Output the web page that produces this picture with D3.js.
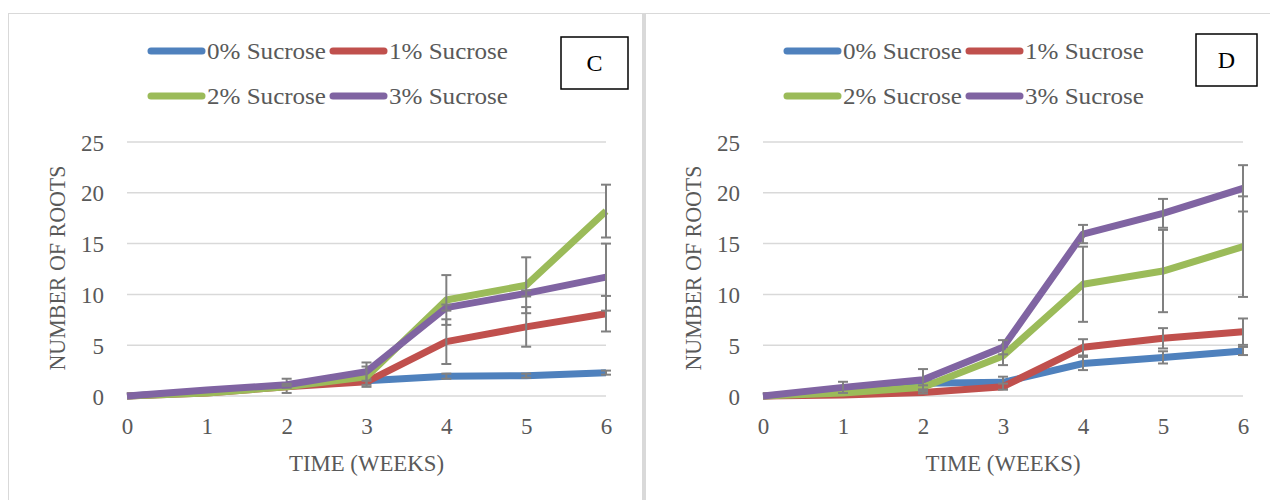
<!DOCTYPE html>
<html>
<head>
<meta charset="utf-8">
<script src="https://cdn.jsdelivr.net/npm/d3@7"></script>
<style>
  html, body { margin: 0; padding: 0; background: #fff; }
  svg { display: block; }
</style>
</head>
<body>
<svg id="chart" width="1270" height="500"></svg>
<script>
// ---------- data ----------
const weeks = [0, 1, 2, 3, 4, 5, 6];
const yTicks = [0, 5, 10, 15, 20, 25];
const seriesNames = ["0% Sucrose", "1% Sucrose", "2% Sucrose", "3% Sucrose"];
const seriesColors = ["#4F81BD", "#C0504D", "#9BBB59", "#8064A2"];

// Panel C – mean number of roots
const c_sucrose0 = [0, 0.4, 1.0, 1.5, 1.95, 2.0, 2.3];
const c_sucrose1 = [0, 0.3, 0.9, 1.4, 5.35, 6.8, 8.1];
const c_sucrose2 = [0, 0.3, 0.9, 1.9, 9.45, 10.9, 18.2];
const c_sucrose3 = [0, 0.6, 1.1, 2.4, 8.7, 10.1, 11.7];
// Panel C – error (±)
const c_err0 = [0, 0.1, 0.7, 0.2, 0.25, 0.2, 0.2];
const c_err1 = [0, 0, 0.1, 0.3, 2.2, 1.95, 1.75];
const c_err2 = [0, 0, 0.1, 1.0, 2.45, 2.75, 2.6];
const c_err3 = [0, 0, 0.1, 0.9, 0.3, 0.3, 3.3];

// Panel D – mean number of roots
const d_sucrose0 = [0, 0.4, 1.25, 1.35, 3.2, 3.8, 4.43];
const d_sucrose1 = [0, 0.1, 0.35, 0.92, 4.79, 5.68, 6.33];
const d_sucrose2 = [0, 0.3, 0.85, 3.94, 11.0, 12.3, 14.7];
const d_sucrose3 = [0, 0.85, 1.6, 4.8, 15.94, 17.98, 20.44];
// Panel D – error (±)
const d_err0 = [0, 0.1, 0.2, 0.55, 0.65, 0.6, 0.4];
const d_err1 = [0, 0, 0.1, 0.3, 0.8, 1.0, 1.3];
const d_err2 = [0, 0, 0.2, 0.9, 3.7, 4.05, 4.95];
const d_err3 = [0, 0.55, 1.05, 0.7, 0.9, 1.42, 2.28];

const panels = [
  { label: "C", values: [c_sucrose0, c_sucrose1, c_sucrose2, c_sucrose3], errors: [c_err0, c_err1, c_err2, c_err3] },
  { label: "D", values: [d_sucrose0, d_sucrose1, d_sucrose2, d_sucrose3], errors: [d_err0, d_err1, d_err2, d_err3] }
];

// ---------- drawing ----------
const svg = d3.select("#chart");
const textColor = "#595959";
const gridColor = "#D9D9D9";
const fontFam = "'Liberation Serif', 'Times New Roman', serif";

// frames
svg.append("rect").attr("x", 8.5).attr("y", 13.5).attr("width", 634).attr("height", 600)
  .attr("fill", "none").attr("stroke", gridColor).attr("stroke-width", 1);
svg.append("line").attr("x1", 645).attr("x2", 1270).attr("y1", 13.5).attr("y2", 13.5)
  .attr("stroke", gridColor).attr("stroke-width", 1);
svg.append("rect").attr("x", 642).attr("y", 13).attr("width", 4).attr("height", 487)
  .attr("fill", gridColor);

const layouts = [
  { x0: 127, x1: 606, legendX: 148, box: [561, 37, 67, 52] },
  { x0: 763, x1: 1243, legendX: 784, box: [1196, 34, 61, 52] }
];

panels.forEach((p, pi) => {
  const L = layouts[pi];
  const g = svg.append("g");
  const x = d3.scaleLinear().domain([0, 6]).range([L.x0, L.x1]);
  const y = d3.scaleLinear().domain([0, 25]).range([396, 142]);

  // gridlines
  g.selectAll(".grid").data(yTicks).enter().append("line")
    .attr("x1", L.x0).attr("x2", L.x1)
    .attr("y1", d => y(d)).attr("y2", d => y(d))
    .attr("stroke", gridColor).attr("stroke-width", 1.5);

  // y axis (labels only)
  const yAxis = d3.axisLeft(y).tickValues(yTicks).tickSize(0).tickPadding(0);
  const ya = g.append("g").attr("transform", `translate(${L.x0 - 23},0)`).call(yAxis);
  ya.select(".domain").remove();
  ya.selectAll("text").attr("fill", textColor).style("font-family", fontFam)
    .style("font-size", "23px").attr("dy", "0.35em");

  // x axis (labels only)
  const xAxis = d3.axisBottom(x).tickValues(weeks).tickFormat(d3.format("d")).tickSize(0).tickPadding(0);
  const xa = g.append("g").attr("transform", `translate(0,418)`).call(xAxis);
  xa.select(".domain").remove();
  xa.selectAll("text").attr("fill", textColor).style("font-family", fontFam)
    .style("font-size", "23px").attr("dy", "0.71em");

  // axis titles
  g.append("text").attr("x", (L.x0 + L.x1) / 2).attr("y", 471)
    .attr("text-anchor", "middle").attr("fill", textColor)
    .style("font-family", fontFam).style("font-size", "24px")
    .attr("textLength", 155).attr("lengthAdjust", "spacingAndGlyphs")
    .text("TIME (WEEKS)");
  g.append("text").attr("transform", `translate(${L.x0 - 62},268) rotate(-90)`)
    .attr("text-anchor", "middle").attr("fill", textColor)
    .style("font-family", fontFam).style("font-size", "24px")
    .attr("textLength", 205).attr("lengthAdjust", "spacingAndGlyphs")
    .text("NUMBER OF ROOTS");

  // series
  const line = d3.line().x((d, i) => x(weeks[i])).y(d => y(d));
  p.values.forEach((vals, si) => {
    g.append("path").datum(vals).attr("d", line)
      .attr("fill", "none").attr("stroke", seriesColors[si])
      .attr("stroke-width", 7).attr("stroke-linejoin", "round").attr("stroke-linecap", "butt");
    const errs = p.errors[si];
    const eg = g.append("g").attr("stroke", "#808080").attr("stroke-width", 2);
    vals.forEach((v, i) => {
      const e = errs[i];
      if (!e) return;
      const cx = x(weeks[i]);
      eg.append("line").attr("x1", cx).attr("x2", cx).attr("y1", y(v - e)).attr("y2", y(v + e));
      [v - e, v + e].forEach(b => {
        eg.append("line").attr("x1", cx - 5).attr("x2", cx + 5).attr("y1", y(b)).attr("y2", y(b));
      });
    });
  });

  // legend
  seriesNames.forEach((name, si) => {
    const col = si % 2, row = Math.floor(si / 2);
    const lx = L.legendX + col * 182;
    const ly = 51 + row * 45;
    g.append("line").attr("x1", lx + 3).attr("x2", lx + 54).attr("y1", ly).attr("y2", ly)
      .attr("stroke", seriesColors[si]).attr("stroke-width", 7).attr("stroke-linecap", "round");
    g.append("text").attr("x", lx + 59).attr("y", ly + 8)
      .attr("fill", textColor).style("font-family", fontFam).style("font-size", "24px")
      .attr("textLength", 119).attr("lengthAdjust", "spacingAndGlyphs")
      .text(name);
  });

  // panel label box
  const [bx, by, bw, bh] = L.box;
  g.append("rect").attr("x", bx).attr("y", by).attr("width", bw).attr("height", bh)
    .attr("fill", "#fff").attr("stroke", "#000").attr("stroke-width", 1.5);
  g.append("text").attr("x", bx + bw / 2).attr("y", by + bh / 2 + 8)
    .attr("text-anchor", "middle").attr("fill", "#000")
    .style("font-family", fontFam).style("font-size", "24px")
    .text(p.label);
});
</script>
</body>
</html>
